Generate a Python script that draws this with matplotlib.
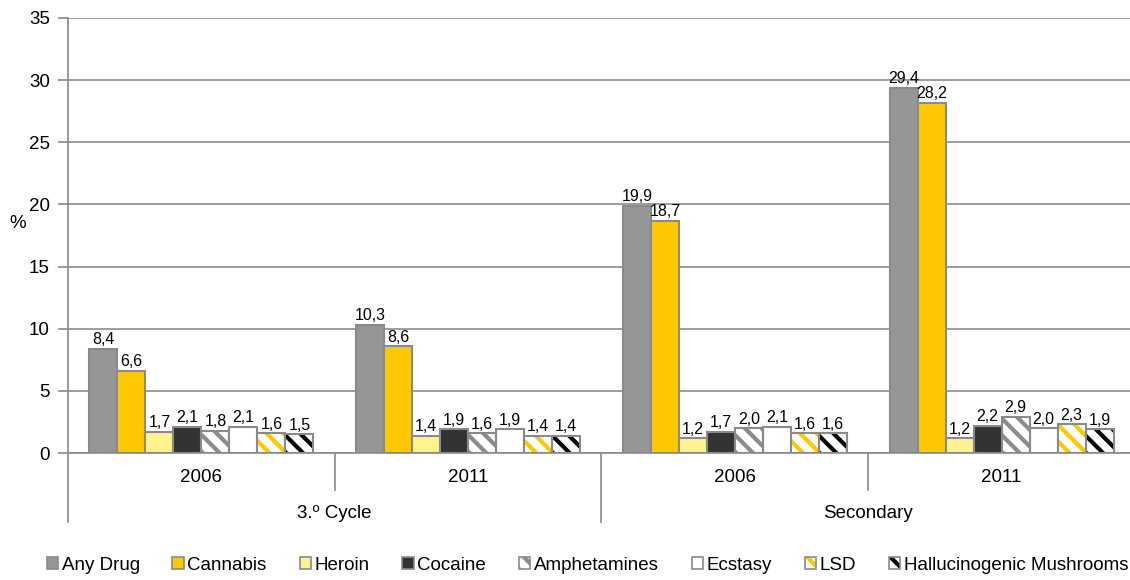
import matplotlib
matplotlib.use("Agg")
import matplotlib.pyplot as plt
import numpy as np
from matplotlib.patches import Patch
from matplotlib.lines import Line2D
from matplotlib.legend_handler import HandlerTuple

plt.rcParams['font.family'] = ['Liberation Sans', 'DejaVu Sans']
plt.rcParams['hatch.linewidth'] = 3.0

levels = ["3.º Cycle", "Secondary"]
years = ["2006", "2011", "2006", "2011"]
series = ["Any Drug", "Cannabis", "Heroin", "Cocaine", "Amphetamines",
          "Ecstasy", "LSD", "Hallucinogenic Mushrooms"]
any_drug = [8.4, 10.3, 19.9, 29.4]
cannabis = [6.6, 8.6, 18.7, 28.2]
heroin = [1.7, 1.4, 1.2, 1.2]
cocaine = [2.1, 1.9, 1.7, 2.2]
amphetamines = [1.8, 1.6, 2.0, 2.9]
ecstasy = [2.1, 1.9, 2.1, 2.0]
lsd = [1.6, 1.4, 1.6, 2.3]
mushrooms = [1.5, 1.4, 1.6, 1.9]
values = [any_drug, cannabis, heroin, cocaine, amphetamines, ecstasy, lsd, mushrooms]

edge = "#8a8a8a"
styles = [
    dict(face="#969696", hatch=None, hcol=None),
    dict(face="#FFC800", hatch=None, hcol=None),
    dict(face="#FFF38F", hatch=None, hcol=None),
    dict(face="#333333", hatch=None, hcol=None),
    dict(face="white", hatch="\\\\", hcol="#8c8c8c"),
    dict(face="white", hatch=None, hcol=None),
    dict(face="white", hatch="\\\\", hcol="#FFC800"),
    dict(face="white", hatch="\\\\", hcol="#000000"),
]

FS = 13.5
fig = plt.figure(figsize=(11.3, 5.8), dpi=100)
ax = fig.add_axes([68/1130, 1-453/580, (1135-68)/1130, (453-18)/580])

n = len(series)
width = 0.105
x = np.arange(len(years))
for i, (vals, st) in enumerate(zip(values, styles)):
    pos = x - width * (n - 1) / 2 + i * width
    if st["hatch"]:
        ax.bar(pos, vals, width, color=st["face"], edgecolor=st["hcol"],
               hatch=st["hatch"], linewidth=0, zorder=3)
        ax.bar(pos, vals, width, fill=False, edgecolor=edge, linewidth=1.5, zorder=4)
    else:
        ax.bar(pos, vals, width, color=st["face"], edgecolor=edge, linewidth=1.5, zorder=3)
    for p, v in zip(pos, vals):
        ax.text(p, v + 0.12, f"{v:.1f}".replace(".", ","), ha="center", va="bottom",
                fontsize=11.5, color="black", zorder=5)

ax.set_xlim(-0.5, len(years) - 0.5)
ax.set_ylim(0, 35)
ax.set_yticks(np.arange(0, 36, 5))
ax.tick_params(axis="y", labelsize=FS, length=7, color=edge, width=1.2, pad=6)
ax.set_xticks([])
ax.yaxis.grid(True, color="#8c8c8c", linewidth=1.2, zorder=0)
ax.set_axisbelow(True)
for s in ["top", "right"]:
    ax.spines[s].set_visible(False)
ax.spines["left"].set_color(edge)
ax.spines["left"].set_linewidth(1.2)
ax.spines["bottom"].set_color(edge)
ax.spines["bottom"].set_linewidth(1.2)
ax.spines["bottom"].set_zorder(6)
ax.set_ylabel("%", rotation=0, fontsize=FS)
ax.yaxis.set_label_coords(-0.047, 0.507)

# multi-level x axis
trans = ax.get_xaxis_transform()
ax_h_px = 453 - 18
def yfrac(py):
    return (453 - py) / ax_h_px

for b in range(len(years) + 1):
    xb = b - 0.5
    full = (b % 2 == 0)
    y_end = yfrac(522) if full else yfrac(490)
    ax.add_line(Line2D([xb, xb], [0, y_end], transform=trans, color=edge,
                       linewidth=1.2, clip_on=False))
for i, yr in enumerate(years):
    ax.text(i, yfrac(477), yr, transform=trans, ha="center", va="center", fontsize=FS)
for j, lv in enumerate(levels):
    ax.text(2 * j + 0.5, yfrac(513), lv, transform=trans, ha="center", va="center",
            fontsize=FS)

handles = []
for st in styles:
    if st["hatch"]:
        handles.append((Patch(facecolor="white", edgecolor=st["hcol"], hatch=st["hatch"],
                              linewidth=0),
                        Patch(fill=False, edgecolor=edge, linewidth=1.2)))
    else:
        handles.append(Patch(facecolor=st["face"], edgecolor=edge, linewidth=1.2))
fig.legend(handles, series, loc="center", bbox_to_anchor=(0.52, 1 - 565/580), ncol=8,
           frameon=False, fontsize=FS, handlelength=0.6, handleheight=0.6,
           handletextpad=0.2, columnspacing=1.75, borderaxespad=0,
           handler_map={tuple: HandlerTuple(ndivide=1, pad=0)})

fig.savefig("out.png", dpi=100)
